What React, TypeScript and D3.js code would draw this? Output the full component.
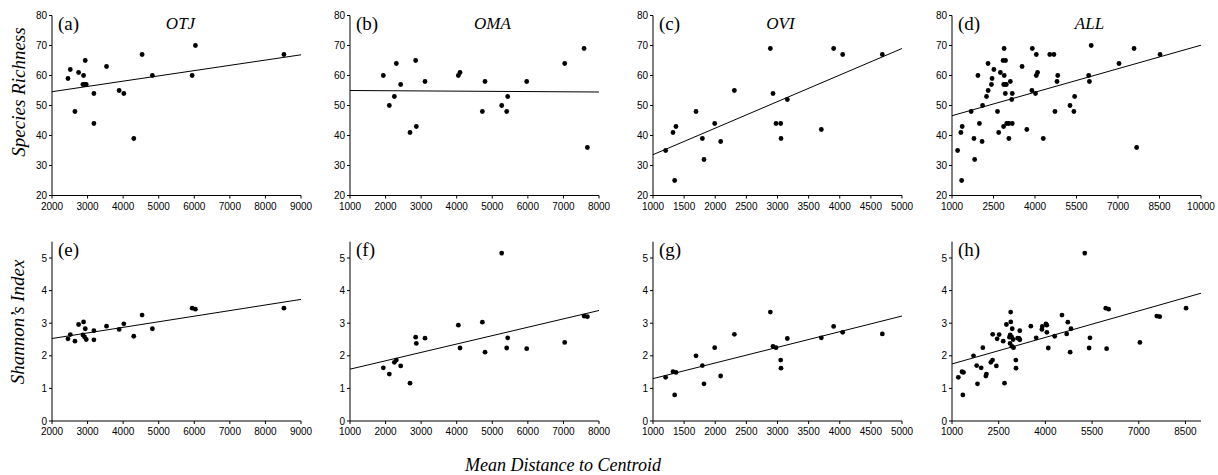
import React from 'react';
import * as d3 from 'd3';

// site groups: mean distance to centroid, species richness, Shannon's index
const otjDist = [2449, 2514, 2645, 2748, 2869, 2888, 2915, 2935, 2963, 3178, 3178, 3533, 3888, 4019, 4299, 4533, 4822, 5940, 6032, 8520];
const otjRichness = [59, 62, 48, 61, 57, 60, 57, 65, 57, 54, 44, 63, 55, 54, 39, 67, 60, 60, 70, 67];
const otjShannon = [2.52, 2.65, 2.45, 2.96, 2.64, 3.04, 2.58, 2.83, 2.5, 2.77, 2.49, 2.91, 2.81, 2.98, 2.6, 3.25, 2.83, 3.46, 3.43, 3.46];

const omaDist = [1937, 2106, 2247, 2303, 2425, 2687, 2846, 2865, 3109, 4046, 4093, 4721, 4796, 5265, 5405, 5433, 5967, 7036, 7580, 7673];
const omaRichness = [60, 50, 53, 64, 57, 41, 65, 43, 58, 60, 61, 48, 58, 50, 48, 53, 58, 64, 69, 36];
const omaShannon = [1.63, 1.44, 1.8, 1.87, 1.69, 1.16, 2.57, 2.38, 2.54, 2.94, 2.24, 3.03, 2.11, 5.15, 2.24, 2.55, 2.22, 2.41, 3.22, 3.2];

const oviDist = [1203, 1321, 1348, 1369, 1691, 1793, 1819, 1991, 2087, 2307, 2885, 2928, 2976, 3051, 3056, 3158, 3704, 3902, 4047, 4684];
const oviRichness = [35, 41, 25, 43, 48, 39, 32, 44, 38, 55, 69, 54, 44, 44, 39, 52, 42, 69, 67, 67];
const oviShannon = [1.34, 1.51, 0.8, 1.49, 2.0, 1.7, 1.14, 2.25, 1.38, 2.66, 3.34, 2.29, 2.25, 1.87, 1.62, 2.53, 2.55, 2.9, 2.72, 2.67];

const allDist = [...otjDist, ...omaDist, ...oviDist];
const allRichness = [...otjRichness, ...omaRichness, ...oviRichness];
const allShannon = [...otjShannon, ...omaShannon, ...oviShannon];

// fitted line values at the two ends of each x domain
const trendA = [54.6, 66.9];
const trendB = [55.0, 54.5];
const trendC = [33.6, 69.0];
const trendD = [46.6, 70.1];
const trendE = [2.53, 3.73];
const trendF = [1.59, 3.39];
const trendG = [1.3, 3.22];
const trendH = [1.75, 3.92];

const richTicks = [20, 30, 40, 50, 60, 70, 80];
const shannonTicks = [0, 1, 2, 3, 4, 5];
const ticksOtj = [2000, 3000, 4000, 5000, 6000, 7000, 8000, 9000];
const ticksOma = [1000, 2000, 3000, 4000, 5000, 6000, 7000, 8000];
const ticksOvi = [1000, 1500, 2000, 2500, 3000, 3500, 4000, 4500, 5000];
const ticksAllTop = [1000, 2500, 4000, 5500, 7000, 8500, 10000];
const ticksAllBottom = [1000, 2500, 4000, 5500, 7000, 8500];

const colLeft = [52, 350, 653, 952];
const plotW = 249;
const rowTop = [15.5, 241.7];
const rowBottom = [195.5, 421];

const sans = '"Liberation Sans", Arial, sans-serif';
const serif = '"Liberation Serif", "Times New Roman", serif';

const panels = [
  { tag: '(a)', title: 'OTJ', xs: otjDist, ys: otjRichness, xd: [2000, 9000], xt: ticksOtj, yd: [20, 80], yt: richTicks, trend: trendA, col: 0, row: 0, titleDx: 4 },
  { tag: '(b)', title: 'OMA', xs: omaDist, ys: omaRichness, xd: [1000, 8000], xt: ticksOma, yd: [20, 80], yt: richTicks, trend: trendB, col: 1, row: 0, titleDx: 18 },
  { tag: '(c)', title: 'OVI', xs: oviDist, ys: oviRichness, xd: [1000, 5000], xt: ticksOvi, yd: [20, 80], yt: richTicks, trend: trendC, col: 2, row: 0, titleDx: 3 },
  { tag: '(d)', title: 'ALL', xs: allDist, ys: allRichness, xd: [1000, 10000], xt: ticksAllTop, yd: [20, 80], yt: richTicks, trend: trendD, col: 3, row: 0, titleDx: 13 },
  { tag: '(e)', title: '', xs: otjDist, ys: otjShannon, xd: [2000, 9000], xt: ticksOtj, yd: [0, 5.5], yt: shannonTicks, trend: trendE, col: 0, row: 1, titleDx: 0 },
  { tag: '(f)', title: '', xs: omaDist, ys: omaShannon, xd: [1000, 8000], xt: ticksOma, yd: [0, 5.5], yt: shannonTicks, trend: trendF, col: 1, row: 1, titleDx: 0 },
  { tag: '(g)', title: '', xs: oviDist, ys: oviShannon, xd: [1000, 5000], xt: ticksOvi, yd: [0, 5.5], yt: shannonTicks, trend: trendG, col: 2, row: 1, titleDx: 0 },
  { tag: '(h)', title: '', xs: allDist, ys: allShannon, xd: [1000, 9000], xt: ticksAllBottom, yd: [0, 5.5], yt: shannonTicks, trend: trendH, col: 3, row: 1, titleDx: 0 },
];

const Panel = ({ p }: { p: any }) => {
  const x0 = colLeft[p.col];
  const x = d3.scaleLinear().domain(p.xd).range([x0, x0 + plotW]);
  const y = d3.scaleLinear().domain(p.yd).range([rowBottom[p.row], rowTop[p.row]]);
  const yBase = rowBottom[p.row];
  const line = d3.line<number>()
    .x((_, i) => x(p.xd[i]))
    .y((d) => y(d));

  return (
    <g>
      {/* axes */}
      <line x1={x0} x2={x0} y1={rowTop[p.row]} y2={yBase} stroke="#000" strokeWidth={1} />
      <line x1={x0} x2={x0 + plotW} y1={yBase} y2={yBase} stroke="#000" strokeWidth={1} />
      {p.yt.map((t: number) => (
        <g key={'y' + t}>
          <line x1={x0 - 3} x2={x0} y1={y(t)} y2={y(t)} stroke="#000" />
          <text x={x0 - 5} y={y(t)} dy="0.35em" textAnchor="end" fontFamily={sans} fontSize={10}>{t}</text>
        </g>
      ))}
      {p.xt.map((t: number) => (
        <g key={'x' + t}>
          <line x1={x(t)} x2={x(t)} y1={yBase} y2={yBase + 3} stroke="#000" />
          <text x={x(t)} y={yBase + 14} textAnchor="middle" fontFamily={sans} fontSize={10}>{t}</text>
        </g>
      ))}
      <path d={line(p.trend) || ''} fill="none" stroke="#000" strokeWidth={1} />
      {p.xs.map((v: number, i: number) => (
        <circle key={i} cx={x(v)} cy={y(p.ys[i])} r={2.4} fill="#000" />
      ))}
      <text x={x0 + 6} y={rowTop[p.row] + 14} fontFamily={serif} fontSize={19}>{p.tag}</text>
      {p.title && (
        <text x={x0 + plotW / 2 + p.titleDx} y={rowTop[p.row] + 13} textAnchor="middle" fontFamily={serif} fontStyle="italic" fontSize={17}>{p.title}</text>
      )}
    </g>
  );
};

const App = () => {
  return (
    <svg width={1218} height={475} style={{ position: 'absolute', left: 0, top: 0, background: '#fff' }}>
      <rect width={1218} height={475} fill="#fff" />
      {panels.map((p) => <Panel key={p.tag} p={p} />)}
      <text transform="translate(25,92) rotate(-90)" textAnchor="middle" fontFamily={serif} fontStyle="italic" fontSize={19}>Species Richness</text>
      <text transform="translate(24,322) rotate(-90)" textAnchor="middle" fontFamily={serif} fontStyle="italic" fontSize={19}>Shannon’s Index</text>
      <text x={563} y={471} textAnchor="middle" fontFamily={serif} fontStyle="italic" fontSize={18}>Mean Distance to Centroid</text>
    </svg>
  );
};

export default App;
